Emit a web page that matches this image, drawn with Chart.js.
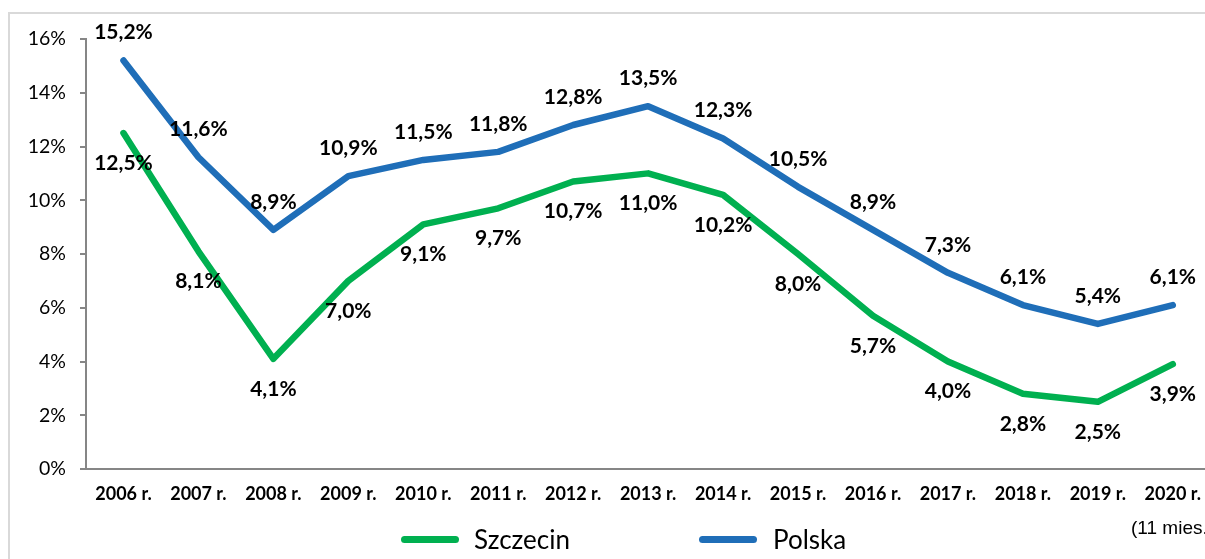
<!DOCTYPE html>
<html><head><meta charset="utf-8">
<script src="https://cdn.jsdelivr.net/npm/chart.js@4"></script>
<style>
html,body{margin:0;padding:0;width:1205px;height:559px;overflow:hidden;background:#fff;}
#frame{position:absolute;left:8px;top:12px;width:1300px;height:700px;border-left:2px solid #D9D9D9;border-top:2px solid #D9D9D9;}
#wrap{position:absolute;left:0;top:0;width:1215px;height:559px;}
#note{position:absolute;left:1131px;top:517px;font:19px "Liberation Sans",Arial,sans-serif;color:#000;white-space:nowrap;}
.leg{position:absolute;top:524px;font:26px Lato,sans-serif;color:#000;white-space:nowrap;line-height:30px;}
.sw{position:absolute;width:58px;height:7px;border-radius:4px;}
</style></head>
<body>
<div id="frame"></div>
<div id="wrap"><canvas id="c" width="1215" height="559"></canvas></div>
<div id="note">(11 mies.)</div>
<div class="sw" style="left:401px;top:536px;background:#00B050"></div>
<div class="leg" style="left:474px">Szczecin</div>
<div class="sw" style="left:699px;top:536px;background:#1F6EB8"></div>
<div class="leg" style="left:773px">Polska</div>
<script>
const categories = ['2006 r.','2007 r.','2008 r.','2009 r.','2010 r.','2011 r.','2012 r.','2013 r.','2014 r.','2015 r.','2016 r.','2017 r.','2018 r.','2019 r.','2020 r.'];
const szczecin = [12.5, 8.1, 4.1, 7.0, 9.1, 9.7, 10.7, 11.0, 10.2, 8.0, 5.7, 4.0, 2.8, 2.5, 3.9];
const polska = [15.2, 11.6, 8.9, 10.9, 11.5, 11.8, 12.8, 13.5, 12.3, 10.5, 8.9, 7.3, 6.1, 5.4, 6.1];
const yTicks = [0, 2, 4, 6, 8, 10, 12, 14, 16];

const fmt = v => v.toFixed(1).replace('.', ',') + '%';

const labelPlugin = {
  id: 'valueLabels',
  afterDatasetsDraw(chart) {
    const ctx = chart.ctx;
    ctx.save();
    ctx.font = 'bold 21px Lato, sans-serif';
    ctx.fillStyle = '#000';
    ctx.textAlign = 'center';
    ctx.textBaseline = 'middle';
    chart.data.datasets.forEach((ds, di) => {
      const meta = chart.getDatasetMeta(di);
      const off = ds.labelOffset;
      meta.data.forEach((pt, i) => {
        ctx.fillText(fmt(ds.data[i]), pt.x, pt.y + off);
      });
    });
    ctx.restore();
  }
};

new Chart(document.getElementById('c'), {
  type: 'line',
  data: {
    labels: categories,
    datasets: [
      {label: 'Szczecin', data: szczecin, borderColor: '#00B050', backgroundColor: '#00B050', borderWidth: 6.5, pointRadius: 0, tension: 0, borderCapStyle: 'round', borderJoinStyle: 'round', labelOffset: 30},
      {label: 'Polska', data: polska, borderColor: '#1F6EB8', backgroundColor: '#1F6EB8', borderWidth: 6.5, pointRadius: 0, tension: 0, borderCapStyle: 'round', borderJoinStyle: 'round', labelOffset: -28}
    ]
  },
  options: {
    responsive: false,
    animation: false,
    layout: {padding: {left: 0, top: 39, right: 0, bottom: 0}},
    plugins: {legend: {display: false}, tooltip: {enabled: false}},
    scales: {
      x: {
        offset: true,
        grid: {display: true, drawOnChartArea: false, drawTicks: false},
        border: {display: true, color: '#868686', width: 2},
        ticks: {font: {family: 'Lato', weight: 'bold', size: 18}, color: '#000', padding: 14, maxRotation: 0, autoSkip: false},
        afterFit(s) { s.height = 90; }
      },
      y: {
        min: 0, max: 16,
        afterBuildTicks(s) { s.ticks = yTicks.map(v => ({value: v})); },
        grid: {display: true, drawOnChartArea: false, drawTicks: true, tickLength: 6, color: '#868686', lineWidth: 2},
        border: {display: true, color: '#868686', width: 2},
        ticks: {font: {family: 'Lato', size: 19.5}, color: '#000', padding: 14, callback: v => v + '%'},
        afterFit(s) { s.width = 86; }
      }
    }
  },
  plugins: [labelPlugin]
});
</script>
</body></html>
